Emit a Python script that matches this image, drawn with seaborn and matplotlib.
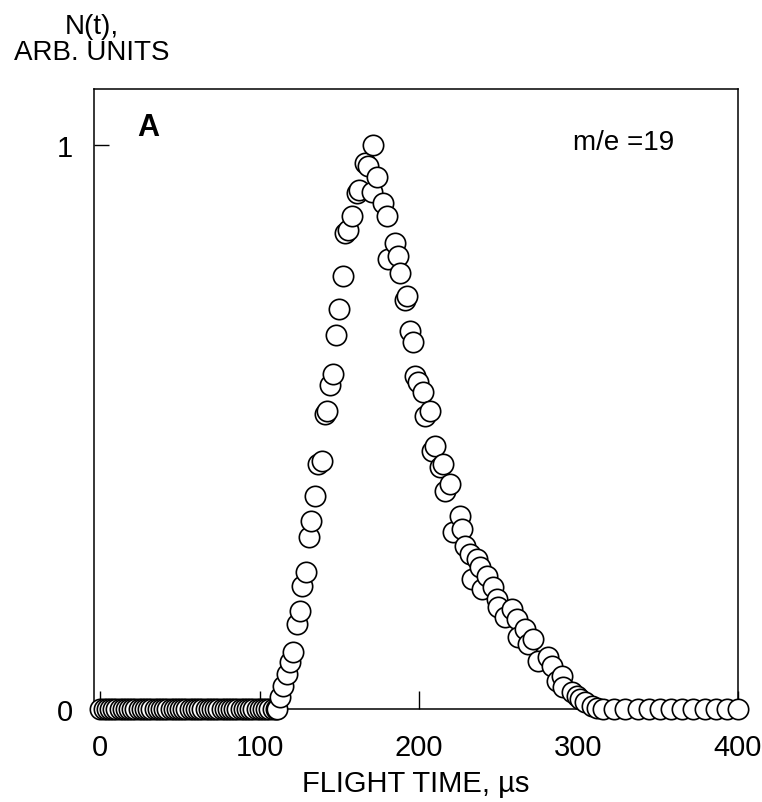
import numpy as np
import pandas as pd
import matplotlib
matplotlib.use("Agg")
import matplotlib.pyplot as plt
import seaborn as sns

# ---------------- data ----------------
base_left_t = [0, 2, 4, 6, 8, 10, 12, 14, 16, 18, 20, 22, 24, 26, 28, 30, 32, 34,
               36, 38, 40, 42, 44, 46, 48, 50, 52, 54, 56, 58, 60, 62, 64, 66, 68,
               70, 72, 74, 76, 78, 80, 82, 84, 86, 88, 90, 92, 94, 96, 98, 100,
               102, 104, 106, 108, 110]
base_left_n = [0.0] * len(base_left_t)

peak_t = [110.8, 112.6, 114.5, 116.9, 118.8, 120.7, 123.2, 125.1, 126.4, 128.9,
          130.8, 132.0, 134.5, 136.4, 138.9, 140.8, 142.1, 143.9, 145.8, 147.7,
          149.6, 152.1, 153.4, 155.2, 157.7, 160.9, 162.1, 165.9, 167.8, 170.3,
          170.9, 173.5, 177.2, 179.7, 180.4, 184.7, 186.6, 187.9, 191.0, 192.3,
          194.2, 196.1, 197.3, 199.2, 202.3, 203.6, 206.7, 208.0, 209.9, 213.0,
          214.9, 216.1, 219.3, 221.2, 225.6, 226.8, 228.7, 231.8, 233.1, 236.2,
          238.1, 239.4, 242.5, 246.3, 248.8, 249.4, 253.8, 258.2, 261.3, 262.0,
          266.4, 268.2, 271.4, 274.5, 280.8, 283.3, 286.4, 289.6, 290.2, 295.9,
          299.0, 300.9, 304.0, 308.4, 311.5]
peak_n = [0.000, 0.021, 0.041, 0.062, 0.083, 0.101, 0.151, 0.174, 0.218, 0.243,
          0.306, 0.334, 0.378, 0.435, 0.440, 0.524, 0.528, 0.574, 0.595, 0.664,
          0.710, 0.769, 0.844, 0.849, 0.874, 0.915, 0.920, 0.968, 0.964, 0.918,
          1.000, 0.943, 0.897, 0.874, 0.799, 0.826, 0.803, 0.773, 0.725, 0.732,
          0.671, 0.652, 0.591, 0.581, 0.563, 0.519, 0.528, 0.458, 0.467, 0.430,
          0.435, 0.387, 0.400, 0.314, 0.343, 0.320, 0.290, 0.275, 0.231, 0.266,
          0.252, 0.213, 0.236, 0.217, 0.195, 0.181, 0.163, 0.178, 0.160, 0.128,
          0.142, 0.115, 0.124, 0.085, 0.092, 0.076, 0.050, 0.059, 0.039, 0.030,
          0.023, 0.018, 0.012, 0.005, 0.002]

base_right_t = [315, 322, 329, 337, 344, 351, 358, 365, 372, 379, 386, 393, 400]
base_right_n = [0.0] * len(base_right_t)

x_ticks = [0, 100, 200, 300, 400]
y_ticks = [0, 1]
x_label = "FLIGHT TIME, \u00b5s"
y_label = "N(t),\nARB. UNITS"
panel_label = "A"
mass_label = "m/e =19"

df = pd.DataFrame({
    "t": base_left_t + peak_t + base_right_t,
    "n": base_left_n + peak_n + base_right_n,
}).sort_values("t", kind="stable")

# ---------------- style ----------------
sns.set_style("white")
plt.rcParams["font.family"] = ["Liberation Sans", "DejaVu Sans"]
plt.rcParams["text.color"] = "black"
plt.rcParams["axes.labelcolor"] = "black"
plt.rcParams["xtick.color"] = "black"
plt.rcParams["ytick.color"] = "black"

fig = plt.figure(figsize=(7.62, 8.03), dpi=100)
ax = fig.add_axes([94 / 762, 1 - 710 / 803, (738 - 94) / 762, (710 - 90) / 803])

sns.scatterplot(data=df, x="t", y="n", ax=ax, s=215, marker="o",
                facecolor="white", edgecolor="black", linewidth=1.2,
                clip_on=False, zorder=3, legend=False)

ax.set_xlim(-4, 400)
ax.set_ylim(0, 1.1)
ax.set_xticks(x_ticks)
ax.set_yticks(y_ticks)
ax.set_xticklabels([str(v) for v in x_ticks])
ax.set_yticklabels([str(v) for v in y_ticks])
ax.tick_params(axis="x", direction="in", length=13, width=1, pad=17,
               labelsize=21, colors="black", bottom=True)
ax.tick_params(axis="y", direction="in", length=11, width=1, pad=15,
               labelsize=21, colors="black", left=True)
for sp in ax.spines.values():
    sp.set_visible(True)
    sp.set_color("black")
    sp.set_linewidth(1.1)

ax.set_xlabel(x_label, fontsize=21, labelpad=6, color="black")
ax.set_ylabel("")
fig.text(92 / 762, 1 - 40 / 803, y_label, ha="center", va="center",
         multialignment="center", fontsize=20, linespacing=0.95, color="black")

ax.text(0.084, 0.939, panel_label, transform=ax.transAxes, ha="center",
        va="center", fontsize=22, fontweight="bold", color="black")
ax.text(0.823, 0.915, mass_label, transform=ax.transAxes, ha="center",
        va="center", fontsize=20, color="black")

fig.savefig("out.png", dpi=100, facecolor="white")
